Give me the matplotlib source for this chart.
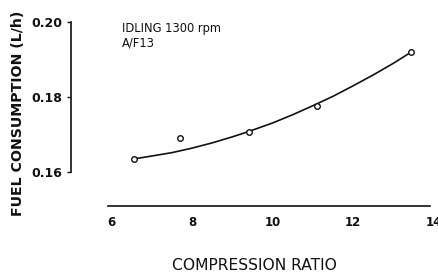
"""Fuel consumption vs compression ratio (idling 1300 rpm, A/F 13)."""
import matplotlib
matplotlib.use("Agg")
import matplotlib.pyplot as plt

INK = "#111111"

# measured points
ratio = [6.57, 7.70, 9.41, 11.11, 13.43]
fuel = [0.1634, 0.1692, 0.1708, 0.1776, 0.1920]

# faired curve
curve_ratio = [6.6, 7.0, 7.5, 8.0, 8.5, 9.0, 9.4, 10.0, 10.5, 11.0, 11.5, 12.0, 12.5, 13.0, 13.4]
curve_fuel = [0.1636, 0.1643, 0.1652, 0.1664, 0.1678, 0.1694, 0.1708, 0.1731, 0.1753,
              0.1777, 0.1802, 0.1830, 0.1859, 0.1890, 0.1917]

xticks = [6, 8, 10, 12, 14]
yticks = [0.16, 0.18, 0.20]
ytick_labels = ["0.16", "0.18", "0.20"]

fig = plt.figure(figsize=(4.38, 2.80), dpi=100)
ax = fig.add_axes([0.162, 0.264, 0.838, 0.665])

ax.plot(curve_ratio, curve_fuel, color=INK, lw=1.2)
ax.plot(ratio, fuel, 'o', ms=4, mfc='white', mec=INK, mew=1.0)

ax.set_xlim(5.0, 14.1)
ax.set_ylim(0.151, 0.2005)

for s in ['top', 'right']:
    ax.spines[s].set_visible(False)
ax.spines['left'].set_bounds(0.16, 0.20)
ax.spines['bottom'].set_bounds(5.93, 13.9)
for s in ['left', 'bottom']:
    ax.spines[s].set_color(INK)
    ax.spines[s].set_linewidth(1.2)

ax.set_xticks(xticks)
ax.set_xticklabels([str(t) for t in xticks])
ax.tick_params(axis='x', length=0, pad=7, labelsize=8.5, colors=INK)
ax.set_yticks(yticks)
ax.set_yticklabels(ytick_labels)
ax.tick_params(axis='y', length=3, width=1.0, pad=3, labelsize=9, colors=INK)
for lbl in ax.get_xticklabels() + ax.get_yticklabels():
    lbl.set_fontweight('semibold')

ax.set_xlabel("COMPRESSION RATIO", fontsize=11.2, color=INK, labelpad=21)
ax.set_ylabel("FUEL CONSUMPTION (L/h)", fontsize=10.2, color=INK, fontweight='semibold', labelpad=5)

ax.text(0.139, 0.99, "IDLING 1300 rpm\nA/F13", transform=ax.transAxes,
        ha='left', va='top', fontsize=8.3, color=INK, linespacing=1.2)

fig.savefig("out.png", dpi=100, facecolor='white')
